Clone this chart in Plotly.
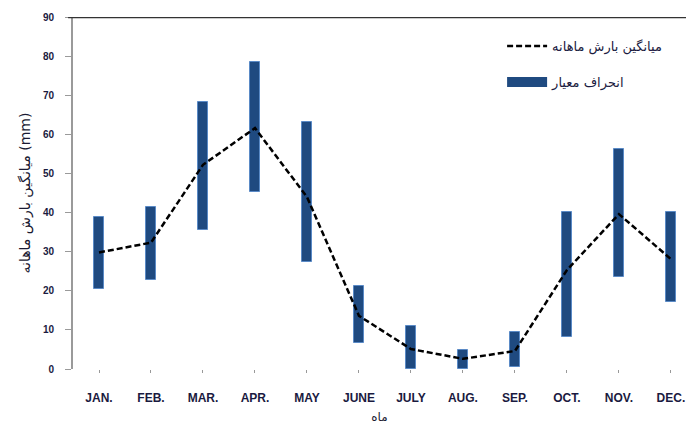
import plotly.graph_objects as go

# Monthly precipitation: mean and one-standard-deviation band (mm)
months = ["JAN.", "FEB.", "MAR.", "APR.", "MAY", "JUNE", "JULY",
          "AUG.", "SEP.", "OCT.", "NOV.", "DEC."]
mean_precip = [29.8, 32.3, 52.2, 61.6, 44.0, 13.6, 5.1, 2.6, 4.6, 25.3, 39.6, 28.1]
std_low = [20.5, 22.8, 35.5, 45.3, 27.4, 6.6, 0.0, 0.0, 0.5, 8.2, 23.5, 17.1]
std_high = [38.9, 41.4, 68.3, 78.5, 63.2, 21.2, 11.0, 4.9, 9.5, 40.1, 56.3, 40.1]
y_ticks = [0, 10, 20, 30, 40, 50, 60, 70, 80, 90]

mean_name = "میانگین بارش ماهانه"
std_name = "انحراف معیار"
bar_fill = "#1F4A80"
bar_edge = "#5A8AC6"

fig = go.Figure()

# deviation range as floating bars
fig.add_trace(go.Bar(
    x=months,
    y=[h - l for h, l in zip(std_high, std_low)],
    base=std_low,
    width=0.2,
    marker=dict(color=bar_fill, line=dict(color=bar_edge, width=1)),
    showlegend=False,
    hoverinfo="skip",
))

# mean line
fig.add_trace(go.Scatter(
    x=months, y=mean_precip, mode="lines",
    line=dict(color="black", width=2.5, dash="6px,3px"),
    name=mean_name, legendgroup="a",
))

# legend entry for the deviation bars
fig.add_trace(go.Scatter(
    x=[None], y=[None], mode="lines",
    line=dict(color=bar_fill, width=10),
    name=std_name, legendgroup="b",
))

fig.update_layout(
    width=686, height=426,
    margin=dict(l=73, r=0, t=17, b=57),
    paper_bgcolor="white", plot_bgcolor="white",
    font=dict(family="Liberation Sans, DejaVu Sans, sans-serif", color="#1a1a33"),
    bargap=0,
    showlegend=True,
    legend=dict(
        x=0.70, y=0.96, xanchor="left", yanchor="top",
        bgcolor="rgba(0,0,0,0)",
        font=dict(size=13, family="DejaVu Sans, sans-serif", color="#1a1a40"),
        traceorder="grouped", tracegroupgap=16,
        itemwidth=40,
    ),
    xaxis=dict(
        range=[-0.5, 11.29],
        showline=False, showgrid=False, zeroline=False,
        ticks="outside", ticklen=3, tickwidth=1, tickcolor="#999999",
        ticklabelstandoff=15,
        tickfont=dict(size=12, weight="bold", color="#1a1a40"),
        title=dict(text="ماه", font=dict(size=12, family="DejaVu Sans, sans-serif"),
                   standoff=8),
    ),
    yaxis=dict(
        range=[0, 90],
        tickvals=y_ticks,
        showline=True, linecolor="#9a9a9a", linewidth=2,
        showgrid=False, zeroline=False,
        ticks="outside", ticklen=6, tickwidth=1, tickcolor="#9a9a9a",
        ticklabelstandoff=9,
        tickfont=dict(size=10, weight="bold", color="#1a1a40"),
        title=dict(text="میانگین بارش ماهانه (mm)",
                   font=dict(size=14, family="DejaVu Sans, sans-serif"),
                   standoff=9),
    ),
    shapes=[dict(type="line", xref="paper", yref="y", x0=-0.008, x1=1,
                 y0=90, y1=90, line=dict(color="#333333", width=2.5))],
)

fig.write_html("out.html")
